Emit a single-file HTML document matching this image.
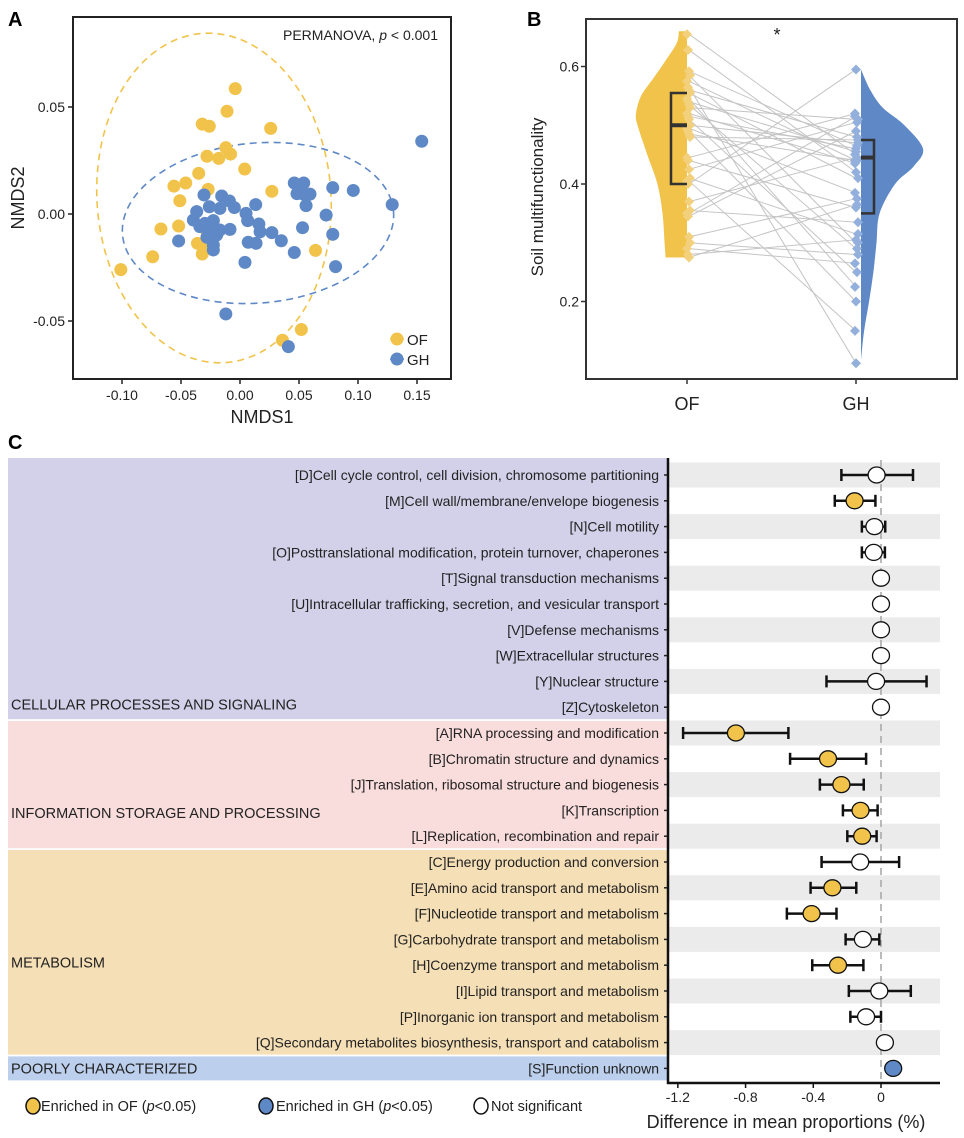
<!DOCTYPE html>
<html><head><meta charset="utf-8"><style>
body{margin:0;background:#fff;}
svg{display:block;font-family:"Liberation Sans",Arial,sans-serif;}
</style></head><body>
<svg id="fig" width="964" height="1138" viewBox="0 0 964 1138" xmlns="http://www.w3.org/2000/svg">
<g id="pA"></g>
<g id="pB"></g>
<g id="pC"></g>
</svg>
<script>
// ---- Panel A data ----
const ofX=[-0.004,-0.011,-0.032,-0.026,0.026,-0.012,-0.028,-0.018,-0.008,0.004,-0.035,-0.056,-0.046,-0.027,0.027,-0.051,-0.067,-0.052,-0.028,-0.036,-0.031,-0.032,-0.074,-0.101,0.064,0.052,0.036];
const ofY=[0.0586,0.048,0.042,0.041,0.040,0.031,0.027,0.026,0.028,0.021,0.019,0.013,0.0145,0.0115,0.0106,0.0062,-0.007,-0.0056,-0.0083,-0.0137,-0.0156,-0.0187,-0.020,-0.026,-0.017,-0.054,-0.059];
const ghX=[0.154,0.046,0.054,0.0786,0.096,0.0483,0.0593,0.054,0.056,0.129,0.0133,-0.0305,-0.0155,-0.009,-0.026,-0.017,-0.0048,-0.0367,0.0051,-0.0395,0.0065,0.073,0.016,-0.0297,-0.0226,-0.017,-0.0085,0.017,0.053,0.027,0.0786,-0.052,-0.028,-0.0198,0.035,0.007,0.0136,-0.0226,-0.0226,0.046,0.0042,0.081,-0.012,0.041,-0.034,-0.025];
const ghY=[0.034,0.0145,0.0145,0.0123,0.011,0.0095,0.0093,0.0092,0.0039,0.0044,0.0044,0.0089,0.0084,0.0061,0.0034,0.0026,0.003,0.0011,0.0003,-0.0028,-0.0031,-0.0005,-0.0047,-0.0044,-0.0031,-0.0075,-0.0072,-0.0083,-0.0064,-0.0087,-0.0095,-0.0126,-0.0109,-0.0098,-0.0125,-0.0132,-0.0137,-0.0145,-0.0168,-0.018,-0.0226,-0.0246,-0.0467,-0.062,-0.0059,-0.0072];
const aXTicks=[-0.10,-0.05,0.00,0.05,0.10,0.15];
const aXTickLabels=["-0.10","-0.05","0.00","0.05","0.10","0.15"];
const aYTicks=[0.05,0.00,-0.05];
const aYTickLabels=["0.05","0.00","-0.05"];
// ---- Panel B data ----
const bOF=[0.655,0.628,0.592,0.585,0.575,0.565,0.56,0.555,0.545,0.54,0.535,0.53,0.52,0.515,0.51,0.50,0.495,0.49,0.485,0.48,0.445,0.44,0.425,0.41,0.405,0.40,0.37,0.355,0.35,0.345,0.31,0.30,0.29,0.28,0.275];
const bGH=[0.45,0.42,0.465,0.30,0.44,0.095,0.48,0.41,0.225,0.455,0.29,0.51,0.435,0.46,0.25,0.47,0.385,0.20,0.44,0.475,0.52,0.36,0.505,0.315,0.15,0.595,0.445,0.335,0.515,0.49,0.375,0.28,0.265,0.305,0.365];
const bYTicks=[0.2,0.4,0.6];
const bYTickLabels=["0.2","0.4","0.6"];
const ofDensLevels=[0.275,0.30,0.35,0.40,0.45,0.50,0.52,0.55,0.58,0.61,0.64,0.66];
const ofDensWidth=[0.42,0.44,0.48,0.58,0.78,0.97,1.0,0.9,0.66,0.42,0.2,0.16];
const ghDensLevels=[0.10,0.15,0.20,0.25,0.30,0.35,0.40,0.43,0.46,0.50,0.53,0.56,0.595];
const ghDensWidth=[0.0,0.05,0.13,0.2,0.25,0.3,0.55,0.85,1.0,0.7,0.35,0.15,0.0];
const bBoxOF=[0.40,0.50,0.555];
const bBoxGH=[0.35,0.445,0.475];
// ---- Panel C data ----
const cLabels=["[D]Cell cycle control, cell division, chromosome partitioning","[M]Cell wall/membrane/envelope biogenesis","[N]Cell motility","[O]Posttranslational modification, protein turnover, chaperones","[T]Signal transduction mechanisms","[U]Intracellular trafficking, secretion, and vesicular transport","[V]Defense mechanisms","[W]Extracellular structures","[Y]Nuclear structure","[Z]Cytoskeleton","[A]RNA processing and modification","[B]Chromatin structure and dynamics","[J]Translation, ribosomal structure and biogenesis","[K]Transcription","[L]Replication, recombination and repair","[C]Energy production and conversion","[E]Amino acid transport and metabolism","[F]Nucleotide transport and metabolism","[G]Carbohydrate transport and metabolism","[H]Coenzyme transport and metabolism","[I]Lipid transport and metabolism","[P]Inorganic ion transport and metabolism","[Q]Secondary metabolites biosynthesis, transport and catabolism","[S]Function unknown"];
const cMean=[-0.026,-0.156,-0.039,-0.043,0.0,0.0,0.0,0.0,-0.029,0.0,-0.857,-0.313,-0.234,-0.121,-0.111,-0.123,-0.287,-0.41,-0.107,-0.254,-0.01,-0.088,0.023,0.072];
const cLow=[-0.234,-0.273,-0.113,-0.113,null,null,null,null,-0.322,null,-1.169,-0.537,-0.361,-0.225,-0.199,-0.351,-0.416,-0.556,-0.209,-0.406,-0.19,-0.181,null,null];
const cHigh=[0.189,-0.033,0.025,0.023,null,null,null,null,0.269,null,-0.547,-0.088,-0.102,-0.020,-0.026,0.107,-0.146,-0.263,-0.01,-0.104,0.176,0.0,null,null];
const cSig=["ns","OF","ns","ns","ns","ns","ns","ns","ns","ns","OF","OF","OF","OF","OF","ns","OF","OF","ns","OF","ns","ns","ns","GH"];
const cGroups=["CELLULAR PROCESSES AND SIGNALING","INFORMATION STORAGE AND PROCESSING","METABOLISM","POORLY CHARACTERIZED"];
const cGroupStart=[0,10,15,23];
const cGroupEnd=[9,14,22,23];
const cXTicks=[-1.2,-0.8,-0.4,0];
const cXTickLabels=["-1.2","-0.8","-0.4","0"];

const NS="http://www.w3.org/2000/svg";
const YEL="#f1c34a",BLU="#5e88c6";
function mk(parent,tag,attrs,text){const e=document.createElementNS(NS,tag);for(const k in attrs)e.setAttribute(k,attrs[k]);if(text!==undefined)e.textContent=text;parent.appendChild(e);return e;}

// ===== Panel A =====
const A=document.getElementById('pA');
const ax=v=>240+v*1180, ay=v=>214-v*2140;
let t=mk(A,'text',{x:8,y:26,'font-size':20,'font-weight':'bold'},'A');


let e=mk(A,'ellipse',{cx:214,cy:198,rx:117,ry:165,fill:'none',stroke:YEL,'stroke-width':1.6,'stroke-dasharray':'7 5',transform:'rotate(-4 214 198)'});


e=mk(A,'ellipse',{cx:258,cy:223,rx:136,ry:80,fill:'none',stroke:BLU,'stroke-width':1.6,'stroke-dasharray':'7 5',transform:'rotate(-5 258 223)'});


ofX.forEach((x,i)=>{const c=mk(A,'circle',{cx:ax(x),cy:ay(ofY[i]),r:6.5,fill:YEL});

});
ghX.forEach((x,i)=>{const c=mk(A,'circle',{cx:ax(x),cy:ay(ghY[i]),r:6.5,fill:BLU});

});
e=mk(A,'rect',{x:73,y:17,width:378,height:362,fill:'none',stroke:'#222','stroke-width':2});


aXTicks.forEach((v,i)=>{mk(A,'line',{x1:ax(v),x2:ax(v),y1:379,y2:384,stroke:'#222','stroke-width':1.5});
const l=mk(A,'text',{x:ax(v),y:400,'font-size':14,'text-anchor':'middle',fill:'#222'},aXTickLabels[i]);

});
aYTicks.forEach((v,i)=>{mk(A,'line',{x1:68,x2:73,y1:ay(v),y2:ay(v),stroke:'#222','stroke-width':1.5});
const l=mk(A,'text',{x:65,y:ay(v)+5,'font-size':14,'text-anchor':'end',fill:'#222'},aYTickLabels[i]);

});
t=mk(A,'text',{x:262,y:423,'font-size':18,'text-anchor':'middle',fill:'#222'},'NMDS1');


t=mk(A,'text',{x:24,y:198,'font-size':18,'text-anchor':'middle',fill:'#222',transform:'rotate(-90 24 198)'},'NMDS2');


t=mk(A,'text',{x:438,y:40,'font-size':14,'text-anchor':'end',fill:'#222'});


t.innerHTML='PERMANOVA, <tspan font-style="italic">p</tspan> &lt; 0.001';
[[YEL,'OF',339],[BLU,'GH',359]].forEach(([c,n,y])=>{
const g=mk(A,'g',{});


mk(g,'line',{x1:390,x2:404,y1:y,y2:y,stroke:c,'stroke-width':1.5});
mk(g,'circle',{cx:397,cy:y,r:6.5,fill:c});
mk(g,'text',{x:407,y:y+6,'font-size':15,fill:'#222'},n);});

// ===== Panel B =====
const B=document.getElementById('pB');
const by=v=>184-(v-0.4)*587.5;
const xOF=687,xGH=856;
t=mk(B,'text',{x:527,y:26,'font-size':20,'font-weight':'bold'},'B');


function violin(levels,widths,x0,dir,maxW,color,name){
 const pts=levels.map((l,i)=>[x0+dir*widths[i]*maxW,by(l)]);
 let d=`M${x0},${pts[0][1]} L${pts[0][0]},${pts[0][1]}`;
 for(let i=0;i<pts.length-1;i++){
  const p0=pts[Math.max(0,i-1)],p1=pts[i],p2=pts[i+1],p3=pts[Math.min(pts.length-1,i+2)];
  const c1=[p1[0]+(p2[0]-p0[0])/6,p1[1]+(p2[1]-p0[1])/6];
  const c2=[p2[0]-(p3[0]-p1[0])/6,p2[1]-(p3[1]-p1[1])/6];
  d+=` C${c1[0]},${c1[1]} ${c2[0]},${c2[1]} ${p2[0]},${p2[1]}`;
 }
 d+=` L${x0},${pts[pts.length-1][1]} Z`;
 const p=mk(B,'path',{d:d,fill:color});
 
 
}
violin(ofDensLevels,ofDensWidth,xOF,-1,51,YEL,'of-half-violin');
violin(ghDensLevels,ghDensWidth,861,1,62,BLU,'gh-half-violin');
bOF.forEach((v,i)=>{const l=mk(B,'line',{x1:xOF+2,y1:by(v),x2:xGH,y2:by(bGH[i]),stroke:'#c4c4c4','stroke-width':1});

});
function diamond(x,y,c,name){const p=mk(B,'path',{d:`M${x},${y-5} L${x+5},${y} L${x},${y+5} L${x-5},${y} Z`,fill:c});

}
bOF.forEach((v,i)=>diamond(xOF+(i%4),by(v),'#f3d07c','of-sample'));
bGH.forEach((v,i)=>diamond(xGH-1+(i%4),by(v),'#93afdc','gh-sample'));
function box(b,x1,x2,name){const g=mk(B,'g',{fill:'none',stroke:'#333','stroke-width':2.5});


mk(g,'path',{d:`M${x2},${by(b[0])} L${x1},${by(b[0])} L${x1},${by(b[2])} L${x2},${by(b[2])}`});
mk(g,'line',{x1:x1,x2:x2,y1:by(b[1]),y2:by(b[1]),'stroke-width':4});}
box(bBoxOF,671,687,'of-box');
box(bBoxGH,874,861,'gh-box');
e=mk(B,'rect',{x:586,y:19,width:371,height:360,fill:'none',stroke:'#333','stroke-width':2});


bYTicks.forEach((v,i)=>{mk(B,'line',{x1:581,x2:586,y1:by(v),y2:by(v),stroke:'#333','stroke-width':1.5});
const l=mk(B,'text',{x:579,y:by(v)+5,'font-size':14,'text-anchor':'end',fill:'#222'},bYTickLabels[i]);

});
[['OF',xOF],['GH',xGH]].forEach(([n,x])=>{mk(B,'line',{x1:x,x2:x,y1:379,y2:384,stroke:'#333','stroke-width':1.5});
const l=mk(B,'text',{x:x,y:410,'font-size':18,'text-anchor':'middle',fill:'#222'},n);

});
t=mk(B,'text',{x:543,y:197,'font-size':17,'text-anchor':'middle',fill:'#222',transform:'rotate(-90 543 197)'},'Soil multifunctionality');


t=mk(B,'text',{x:777,y:41,'font-size':18,'text-anchor':'middle',fill:'#222'},'*');



// ===== Panel C =====
const C=document.getElementById('pC');
const cx=v=>881+v*169.3;
const ry=i=>475+i*25.8;
t=mk(C,'text',{x:8,y:449,'font-size':20,'font-weight':'bold'},'C');


const gCols=['#d3d1e9','#f9dcdc','#f5dfb6','#bccfec'];
const gLabelRow=[8.9,13.1,18.9,23];
cGroups.forEach((g,i)=>{
 const y1=ry(cGroupStart[i])-13, y2=ry(cGroupEnd[i])+13;
 const r=mk(C,'rect',{x:8,y:y1+(i?1:-4),width:660,height:y2-y1-(i?2:-3),fill:gCols[i]});
 
 
 const l=mk(C,'text',{x:11,y:ry(gLabelRow[i])+5,'font-size':14.5,fill:'#222'},g);
 
 
});
cLabels.forEach((lab,i)=>{
 if(i%2===0){const s=mk(C,'rect',{x:669,y:ry(i)-12.5,width:271,height:25,fill:'#ebebeb'});
 
 }
 const l=mk(C,'text',{x:659,y:ry(i)+5,'font-size':14,'text-anchor':'end',fill:'#222'},lab);
 
 
 mk(C,'line',{x1:664,x2:668,y1:ry(i),y2:ry(i),stroke:'#222','stroke-width':1.5});
});
e=mk(C,'line',{x1:cx(0),x2:cx(0),y1:460,y2:1082,stroke:'#aaa','stroke-width':1.6,'stroke-dasharray':'7 5'});


cMean.forEach((m,i)=>{
 const g=mk(C,'g',{});
 
 
 if(cLow[i]!==null){
  mk(g,'line',{x1:cx(cLow[i]),x2:cx(cHigh[i]),y1:ry(i),y2:ry(i),stroke:'#111','stroke-width':2.5});
  mk(g,'line',{x1:cx(cLow[i]),x2:cx(cLow[i]),y1:ry(i)-6,y2:ry(i)+6,stroke:'#111','stroke-width':2.5});
  mk(g,'line',{x1:cx(cHigh[i]),x2:cx(cHigh[i]),y1:ry(i)-6,y2:ry(i)+6,stroke:'#111','stroke-width':2.5});
 }
 const f=cSig[i]==='OF'?YEL:(cSig[i]==='GH'?BLU:'#fff');
 mk(g,'ellipse',{cx:cx(m),cy:ry(i),rx:8.5,ry:8,fill:f,stroke:'#111','stroke-width':1.3});
});
e=mk(C,'path',{d:'M668,458 L668,1083 L940,1083',fill:'none',stroke:'#111','stroke-width':2.5});


cXTicks.forEach((v,i)=>{mk(C,'line',{x1:cx(v),x2:cx(v),y1:1083,y2:1088,stroke:'#111','stroke-width':1.5});
const l=mk(C,'text',{x:cx(v),y:1102,'font-size':14,'text-anchor':'middle',fill:'#222'},cXTickLabels[i]);

});
t=mk(C,'text',{x:786,y:1128,'font-size':18,'text-anchor':'middle',fill:'#222'},'Difference in mean proportions (%)');


[[YEL,'Enriched in OF (','p','<0.05)',33,41],[BLU,'Enriched in GH (','p','<0.05)',266,276],['#fff','Not significant','','',481,491]].forEach(([c,a,b,d,x,tx])=>{
 const g=mk(C,'g',{});
 
 
 mk(g,'ellipse',{cx:x,cy:1106,rx:7,ry:8,fill:c,stroke:'#111','stroke-width':1.5});
 const tt=mk(g,'text',{x:tx,y:1111,'font-size':14.5,fill:'#222'});
 tt.innerHTML=a+(b?'<tspan font-style="italic">'+b+'</tspan>':'')+d.replace('<','&lt;');
});
</script>
</body></html>
